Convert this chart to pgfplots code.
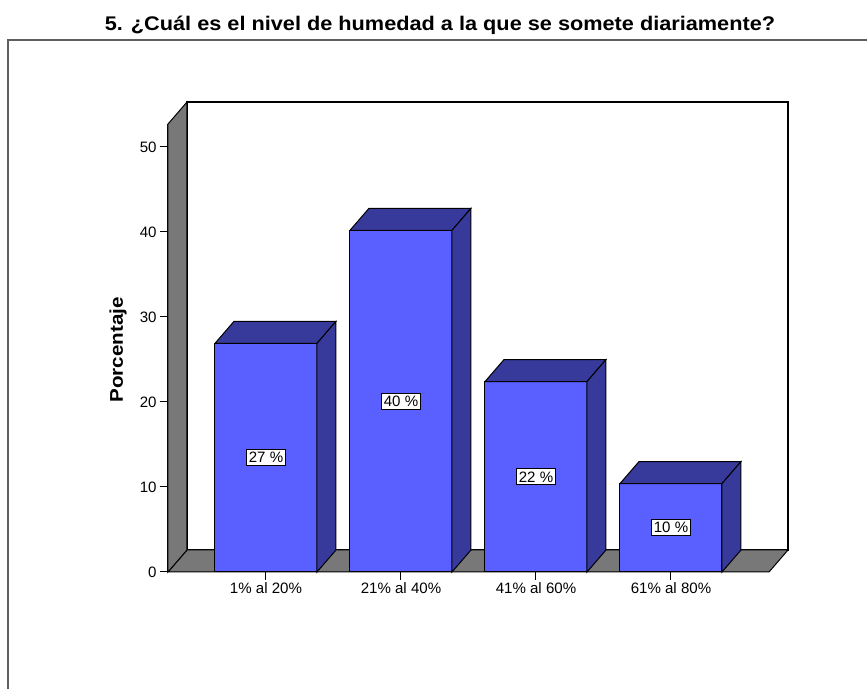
\documentclass[border=0pt]{standalone}
\usepackage{pgfplots}
\pgfplotsset{compat=1.18}
\usepackage{fontspec}
\setmainfont{Liberation Sans}
\definecolor{barfront}{RGB}{90,95,255}
\definecolor{bardark}{RGB}{55,58,155}
\definecolor{wallgray}{RGB}{120,120,120}
\definecolor{framegray}{RGB}{95,95,95}

% 1px = 0.75pt ; half bar width 51px, depth (19px,22px)
\pgfdeclareplotmark{cube3d}{%
  \pgfmathsetmacro\hh{\rawy*6.375}%
  \pgfmathsetmacro\hb{16.5-\hh}%
  \pgfsetlinewidth{0.75pt}%
  \pgfsetstrokecolor{black}%
  \pgfsetfillcolor{bardark}%
  \pgfpathmoveto{\pgfpoint{-38.25pt}{0pt}}%
  \pgfpathlineto{\pgfpoint{-24pt}{16.5pt}}%
  \pgfpathlineto{\pgfpoint{52.5pt}{16.5pt}}%
  \pgfpathlineto{\pgfpoint{38.25pt}{0pt}}%
  \pgfpathclose
  \pgfusepath{fill,stroke}%
  \pgfpathmoveto{\pgfpoint{38.25pt}{0pt}}%
  \pgfpathlineto{\pgfpoint{52.5pt}{16.5pt}}%
  \pgfpathlineto{\pgfpoint{52.5pt}{\hb pt}}%
  \pgfpathlineto{\pgfpoint{38.25pt}{-\hh pt}}%
  \pgfpathclose
  \pgfusepath{fill,stroke}%
}

\begin{document}
\begin{tikzpicture}
\begin{axis}[
  /pgf/number format/assume math mode=true,
  x=101.25pt, y=6.375pt,
  xmin=-0.726, xmax=3.726, ymin=0, ymax=52.7,
  axis x line*=bottom, axis y line*=left,
  axis line style={black, line width=0.75pt},
  xtick={0,1,2,3},
  xticklabels={1\% al 20\%, 21\% al 40\%, 41\% al 60\%, 61\% al 80\%},
  ytick={0,10,20,30,40,50},
  tick align=outside, major tick length=6pt,
  tick style={black, line width=0.75pt},
  ticklabel style={font=\fontsize{11.3}{13}\selectfont},
  xticklabel style={yshift=1.5pt},
  yticklabel style={xshift=1pt},
  clip=false,
]
% frame and title
\draw[framegray, line width=1.5pt] (axis cs:4.4519,62.59) -- (axis cs:-1.911,62.59) -- (axis cs:-1.911,-13.765);
\node[font=\fontsize{14.8}{17}\bfseries] at (axis cs:1.289,64.35) {\scalebox{1.1}[1]{5. ¿Cuál es el nivel de humedad a la que se somete diariamente?}};
\node[font=\fontsize{13.8}{16}\bfseries, rotate=90] at (axis cs:-1.096,26.12) {\scalebox{1.12}[1]{Porcentaje}};
% walls
\filldraw[fill=white, draw=black, line width=1pt] (axis cs:-0.5853,2.588) rectangle (axis cs:3.8667,55.29);
\filldraw[fill=wallgray, draw=black, line width=0.75pt] (axis cs:-0.726,0) -- (axis cs:3.726,0) -- (axis cs:3.8667,2.588) -- (axis cs:-0.5853,2.588) -- cycle;
\filldraw[fill=wallgray, draw=black, line width=0.75pt] (axis cs:-0.726,0) -- (axis cs:-0.726,52.7) -- (axis cs:-0.5853,55.29) -- (axis cs:-0.5853,2.588) -- cycle;
% bars
\addplot[ybar, bar width=0.7556, fill=barfront, draw=black, line width=0.75pt]
  coordinates {(0,26.9) (1,40.2) (2,22.4) (3,10.4)};
\addplot[only marks, mark=cube3d,
  visualization depends on={rawy \as \rawy},
  point meta=y,
  nodes near coords={\pgfmathprintnumber[fixed,precision=0,assume math mode=true]{\pgfplotspointmeta} \%},
  every node near coord/.append style={anchor=center, yshift={-\rawy*3.1875pt},
    fill=white, draw=black, line width=0.6pt, inner sep=2pt, text=black,
    font=\fontsize{11.3}{13}\selectfont}]
  coordinates {(0,26.9) (1,40.2) (2,22.4) (3,10.4)};
\coordinate (BL) at (axis cs:-1.9704,-13.765);
\coordinate (TR) at (axis cs:4.4519,67.294);
\end{axis}
\pgfresetboundingbox
\useasboundingbox (BL) rectangle (TR);
\end{tikzpicture}
\end{document}
